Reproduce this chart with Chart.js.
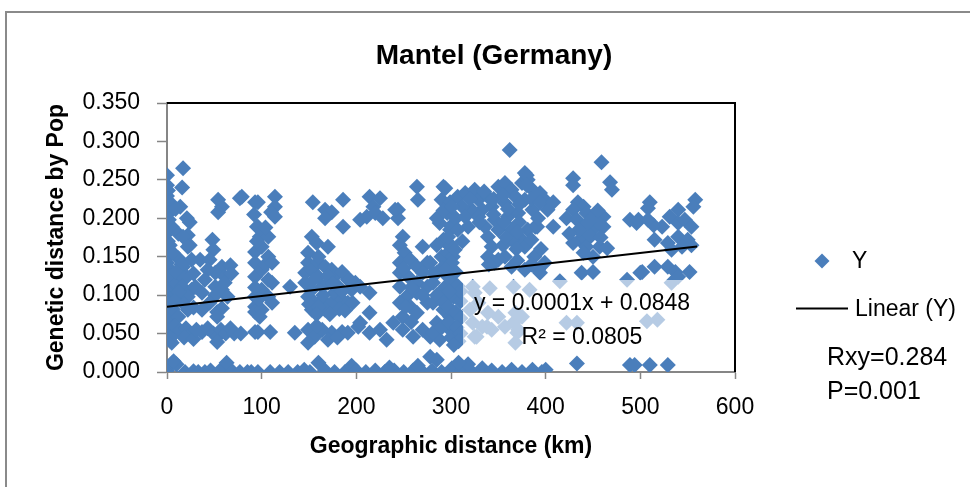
<!DOCTYPE html>
<html><head><meta charset="utf-8">
<script src="https://cdn.jsdelivr.net/npm/chart.js@4.4.1/dist/chart.umd.min.js"></script>
<style>html,body{margin:0;padding:0;background:#fff;overflow:hidden}canvas{display:block}</style>
</head><body>
<canvas id="c" width="970" height="487"></canvas>
<script>
// ---- data (x = geographic distance km, y = genetic distance) ----
const band0to100 = [
 [0,0.256],[0,0.243],[1,0.236],[0,0.229],[3,0.221],[2,0.207],[5,0.189],[1,0.170],[0,0.160],[1,0.150],[0,0.142],[2,0.131],[1,0.120],[3,0.112],[1,0.103],[4,0.095],[0,0.087],[2,0.078],[0,0.074],[1,0.064],[0,0.057],[4,0.049],[3,0.041],[5,0.038],[0,0.002],[6,0.012],
 [2,0.198],[0,0.181],[3,0.165],[2,0.135],[4,0.125],[2,0.090],[5,0.070],[8,0.050],[12,0.148],[6,0.155],[10,0.115],[14,0.095],[6,0.082],
 [17,0.265],[16,0.240],[14,0.215],[9,0.212],[21,0.200],[24,0.195],[12,0.180],[22,0.178],[24,0.165],[17,0.176],[22,0.163],[17,0.137],[21,0.124],[26,0.146],[15,0.140],[10,0.130],[18,0.122],[28,0.128],[16,0.111],[26,0.107],[22,0.098],[30,0.111],[12,0.104],[8,0.092],[18,0.088],[22,0.081],[28,0.084],[12,0.072],[8,0.060],[14,0.054],[20,0.057],[25,0.049],[18,0.045],[28,0.043],[10,0.010],[19,0.000],[7,0.014],[28,0.001],
 [35,0.146],[37,0.103],[37,0.081],[48,0.172],[49,0.159],[45,0.146],[54,0.224],[58,0.215],[54,0.208],[58,0.137],[67,0.139],[51,0.129],[61,0.124],[43,0.133],[51,0.111],[58,0.107],[51,0.100],[61,0.116],[53,0.078],[58,0.083],[53,0.072],[40,0.120],[45,0.090],[64,0.098],[68,0.128],[31,0.055],[37,0.052],[43,0.057],[49,0.050],[53,0.046],[57,0.055],[62,0.050],[67,0.057],[53,0.039],[33,0.000],[40,0.000],[46,0.002],[56,0.002],[63,0.012],[69,0.001],
 [71,0.050],[78,0.050],[77,0.226],[79,0.228],[93,0.221],[95,0.189],[93,0.156],[93,0.142],[93,0.124],[93,0.098],[93,0.085],[93,0.078],[96,0.221],[96,0.189],[98,0.176],[100,0.163],[100,0.133],[100,0.107],[100,0.081],[98,0.072],[96,0.052],[93,0.052],[77,0.000],[85,0.000],[89,0.000],[96,0.000],[93,0.110],[97,0.095],[95,0.170],[92,0.205]
];
const band100to200 = [
 [104,0.140],[109,0.052],[107,0.176],[107,0.150],[111,0.142],[111,0.116],[107,0.098],[111,0.090],[114,0.228],[114,0.215],[110,0.208],[114,0.202],[107,0.120],[104,0.188],[109,0.000],[119,0.000],[128,0.000],[138,0.000],[130,0.111],[135,0.051],
 [154,0.221],[167,0.211],[174,0.208],[167,0.200],[186,0.224],[186,0.189],[153,0.176],[158,0.168],[170,0.163],
 [149,0.155],[149,0.142],[146,0.129],[153,0.133],[160,0.143],[167,0.137],[174,0.133],[146,0.116],[153,0.107],[164,0.111],[170,0.116],[177,0.124],[149,0.098],[156,0.090],[164,0.094],[174,0.090],[153,0.081],[167,0.081],[177,0.103],[185,0.094],[191,0.090],[195,0.107],[191,0.120],[199,0.116],[160,0.124],[181,0.111],[160,0.150],[170,0.125],[185,0.130],[150,0.088],[160,0.085],[182,0.082],[193,0.120],
 [155,0.120],[165,0.100],[175,0.115],[185,0.105],[158,0.075],[172,0.075],[188,0.080],
 [149,0.055],[156,0.046],[164,0.055],[174,0.051],[185,0.052],[191,0.051],[149,0.038],[170,0.042],[180,0.045],[158,0.060],
 [151,0.000],[160,0.012],[167,0.002],[177,0.000],[188,0.000],[199,0.000],[145,0.003],[195,0.008]
];
const band200to300 = [
 [202,0.059],[204,0.198],[204,0.111],[214,0.103],[196,0.090],[214,0.077],[204,0.064],[214,0.051],[225,0.055],[232,0.042],[239,0.064],[249,0.055],[260,0.046],[270,0.055],[278,0.046],[288,0.042],
 [214,0.228],[225,0.226],[218,0.215],[211,0.202],[220,0.207],[228,0.200],[244,0.211],[244,0.200],[241,0.211],
 [264,0.241],[265,0.224],[292,0.241],[290,0.224],[299,0.221],
 [249,0.176],[246,0.165],[251,0.155],[270,0.163],
 [246,0.142],[257,0.146],[264,0.137],[275,0.142],[246,0.129],[255,0.124],[264,0.116],[246,0.111],[253,0.098],[264,0.103],[246,0.090],[257,0.085],[249,0.072],[264,0.077],[275,0.111],[275,0.090],[270,0.129],[278,0.142],[281,0.129],[258,0.065],
 [250,0.135],[258,0.110],[270,0.100],[252,0.085],
 [296,0.207],[288,0.194],[299,0.185],[292,0.172],[285,0.165],[299,0.163],[296,0.142],[285,0.129],[299,0.124],[281,0.116],[288,0.103],[299,0.098],[281,0.090],[292,0.081],[299,0.072],[285,0.064],[299,0.055],[281,0.051],[290,0.150],[295,0.112],
 [285,0.200],[292,0.210],[297,0.155],[290,0.135],[285,0.100],[292,0.090],[297,0.065],[290,0.058],
 [200,0.002],[210,0.000],[220,0.002],[230,0.000],[240,0.002],[250,0.000],[260,0.002],[270,0.000],[280,0.002],[290,0.000],[278,0.020],[285,0.016],[265,0.008],[235,0.006]
];
const band300to400 = [
 [302,0.150],[300,0.045],[296,0.125],[301,0.118],[307,0.112],[303,0.098],[310,0.092],[297,0.085],[305,0.078],[310,0.070],[298,0.064],[306,0.058],[310,0.050],[308,0.040],[303,0.035],[310,0.105],
 [300,0.190],[305,0.200],[300,0.165],[305,0.130],[298,0.105],
 [362,0.289],
 [294,0.239],[307,0.228],[315,0.233],[325,0.237],[329,0.224],[339,0.228],[350,0.241],[357,0.246],[364,0.237],[375,0.246],[378,0.259],[381,0.250],[386,0.237],[378,0.224],[368,0.228],[357,0.220],[343,0.215],[333,0.211],[322,0.211],[312,0.215],[301,0.215],[399,0.224],[402,0.211],[389,0.189],[375,0.172],[378,0.163],[364,0.172],[350,0.185],[339,0.176],[343,0.163],[357,0.150],[350,0.146],[339,0.150],[318,0.189],[307,0.185],[297,0.176],[304,0.159],[301,0.142],[294,0.133],[346,0.142],[364,0.137],[378,0.133],[392,0.133],[399,0.142],
 [315,0.202],[329,0.202],[346,0.198],[360,0.202],[371,0.207],[386,0.211],[336,0.189],[364,0.185],[381,0.185],[380,0.256],[380,0.243],[391,0.189],[369,0.160],[355,0.165],[388,0.150],[312,0.170],
 [320,0.225],[335,0.235],[345,0.225],[355,0.230],[360,0.212],[372,0.218],[385,0.225],[392,0.200],[345,0.205],[330,0.195],[356,0.195],[372,0.195],[358,0.175],[370,0.182],[385,0.172],[395,0.160],[340,0.140],[370,0.145],[385,0.140],
 [323,0.111],[341,0.109],[366,0.111],[383,0.107],[323,0.064],[338,0.059],[366,0.064],[370,0.051],[327,0.046],[350,0.072],[325,0.103],[329,0.090],[320,0.081],[339,0.077],[333,0.059],[325,0.046],[343,0.055],[368,0.077],[375,0.072],[357,0.059],[371,0.055],[368,0.038],
 [301,0.005],[312,0.003],[322,0.000],[333,0.005],[343,0.002],[354,0.000],[364,0.003],[375,0.000],[386,0.003],[396,0.000],[318,0.010],[308,0.012]
];
const band400to560 = [
 [394,0.233],[394,0.221],[394,0.129],[400,0.003],
 [459,0.273],[429,0.252],[429,0.243],[468,0.247],[470,0.237],[408,0.221],[408,0.189],
 [434,0.221],[440,0.215],[429,0.211],[422,0.200],[433,0.198],[443,0.207],[450,0.202],[461,0.202],[440,0.189],[450,0.185],[461,0.189],[447,0.176],[436,0.172],[429,0.168],[443,0.163],[457,0.163],[465,0.161],[450,0.150],[440,0.155],[438,0.129],[450,0.130],[455,0.195],[445,0.180],
 [455,0.210],[445,0.195],[435,0.185],[458,0.175],[425,0.180],
 [489,0.198],[496,0.194],[500,0.129],[486,0.120],[415,0.118],
 [422,0.064],[433,0.064],[507,0.066],[518,0.068],[533,0.116],
 [433,0.011],[489,0.009],[494,0.009],[510,0.009],[529,0.009],
 [510,0.221],[508,0.213],[558,0.224],[556,0.215],[540,0.211],[531,0.202],[523,0.189],[540,0.194],[547,0.198],[554,0.189],[514,0.191],[498,0.198],[508,0.198],
 [515,0.172],[529,0.168],[540,0.176],[550,0.172],[533,0.159],[544,0.163],[554,0.165],
 [502,0.130],[515,0.137],[529,0.137],[537,0.130],[552,0.130],[540,0.124]
];
// trendline as reported by the chart (Excel linear fit)
const trendIntercept = 0.0848;
const trendSlope = 0.00014;
const trendXRange = [0, 560];
const xTicks = [0, 100, 200, 300, 400, 500, 600];
const yTicks = [0, 0.05, 0.1, 0.15, 0.2, 0.25, 0.3, 0.35];
const chartTitle = 'Mantel (Germany)';
const equationLines = ['y = 0.0001x + 0.0848', 'R\u00B2 = 0.0805'];
const statLines = ['Rxy=0.284', 'P=0.001'];

// ---- build ----
const FONT = "'Liberation Sans', Arial, sans-serif";
Chart.defaults.font.family = FONT;
Chart.defaults.color = '#000';
const BLUE = '#4A7EBB';

const scatterPts = [].concat(band0to100, band100to200, band200to300, band300to400, band400to560)
  .map(p => ({x: p[0], y: p[1]}));
const trendPts = trendXRange.map(x => ({x, y: trendIntercept + trendSlope * x}));

const framePlugin = {
  id: 'frame',
  beforeDraw(chart) {
    const c = chart.ctx;
    c.save();
    c.fillStyle = '#fff';
    c.fillRect(0, 0, chart.width, chart.height);
    c.strokeStyle = '#8a8a8a';
    c.lineWidth = 2;
    c.strokeRect(6, 12, chart.width + 20, chart.height + 20);
    c.fillStyle = '#000';
    c.font = 'bold 28px ' + FONT;
    c.textAlign = 'center';
    c.textBaseline = 'middle';
    c.fillText(chartTitle, 494, 56);
    c.restore();
  },
  beforeDatasetsDraw(chart) {
    const {left, right, top, bottom} = chart.chartArea;
    const c = chart.ctx;
    c.save();
    c.strokeStyle = '#000';
    c.lineWidth = 2;
    c.beginPath();
    c.moveTo(left, top);
    c.lineTo(right, top);
    c.lineTo(right, bottom);
    c.stroke();
    c.restore();
  }
};

const labelPlugin = {
  id: 'eqLabel',
  afterDatasetsDraw(chart) {
    const c = chart.ctx;
    c.save();
    c.fillStyle = 'rgba(255,255,255,0.6)';
    c.fillRect(463, 280, 237, 72);
    c.fillStyle = '#000';
    c.font = '23px ' + FONT;
    c.textAlign = 'center';
    c.textBaseline = 'middle';
    c.fillText(equationLines[0], 582, 304);
    c.fillText(equationLines[1], 582, 338);
    c.restore();
  }
};

const legendPlugin = {
  id: 'sideLegend',
  afterDraw(chart) {
    const c = chart.ctx;
    const ds = chart.data.datasets;
    c.save();
    c.fillStyle = BLUE;
    c.beginPath();
    c.moveTo(822 - 7.5, 261); c.lineTo(822, 261 - 7.5); c.lineTo(822 + 7.5, 261); c.lineTo(822, 261 + 7.5);
    c.closePath(); c.fill();
    c.fillStyle = '#000';
    c.font = '23px ' + FONT;
    c.textAlign = 'left';
    c.textBaseline = 'middle';
    c.fillText(ds[1].label, 852, 262);
    c.strokeStyle = '#000';
    c.lineWidth = 2;
    c.beginPath(); c.moveTo(796, 308.5); c.lineTo(848, 308.5); c.stroke();
    c.fillText(ds[0].label, 855, 310);
    c.font = '25px ' + FONT;
    c.fillText(statLines[0], 827, 358);
    c.fillText(statLines[1], 827, 392);
    c.restore();
  }
};

new Chart(document.getElementById('c'), {
  type: 'scatter',
  data: {
    datasets: [
      {type: 'line', label: 'Linear (Y)', data: trendPts, borderColor: '#000', borderWidth: 2,
       pointRadius: 0, fill: false, order: 0},
      {type: 'scatter', label: 'Y', data: scatterPts, pointStyle: 'rectRot', pointRadius: 8,
       pointHoverRadius: 8, backgroundColor: BLUE, borderColor: BLUE, borderWidth: 0, order: 1}
    ]
  },
  options: {
    responsive: false,
    animation: false,
    devicePixelRatio: 1,
    layout: {padding: {left: 10, right: 235, top: 103, bottom: 23}},
    plugins: {
      legend: {display: false},
      tooltip: {enabled: false},
      title: {display: false}
    },
    scales: {
      x: {
        type: 'linear', min: 0, max: 600,
        afterBuildTicks(s) { s.ticks = xTicks.map(v => ({value: v})); },
        ticks: {font: {size: 23}, color: '#000', padding: 15, maxRotation: 0},
        grid: {drawOnChartArea: false, tickLength: 7, color: '#868686', tickWidth: 1.5},
        border: {color: '#868686', width: 2},
        title: {display: true, text: 'Geographic distance (km)', color: '#000',
          font: {size: 23, weight: 'bold'}, padding: {top: 4, bottom: 4}},
        afterFit(s) { s.height = 92; }
      },
      y: {
        type: 'linear', min: 0, max: 0.35,
        afterBuildTicks(s) { s.ticks = yTicks.map(v => ({value: v})); },
        ticks: {font: {size: 23}, color: '#000', padding: 17, callback: v => v.toFixed(3)},
        grid: {drawOnChartArea: false, tickLength: 10, color: '#868686', tickWidth: 1.5},
        border: {color: '#868686', width: 2},
        title: {display: true, text: 'Genetic distance by Pop', color: '#000',
          font: {size: 23, weight: 'bold'}, padding: {top: 33, bottom: 4}},
        afterFit(s) { s.width = 157; }
      }
    }
  },
  plugins: [framePlugin, labelPlugin, legendPlugin]
});
</script>
</body></html>
